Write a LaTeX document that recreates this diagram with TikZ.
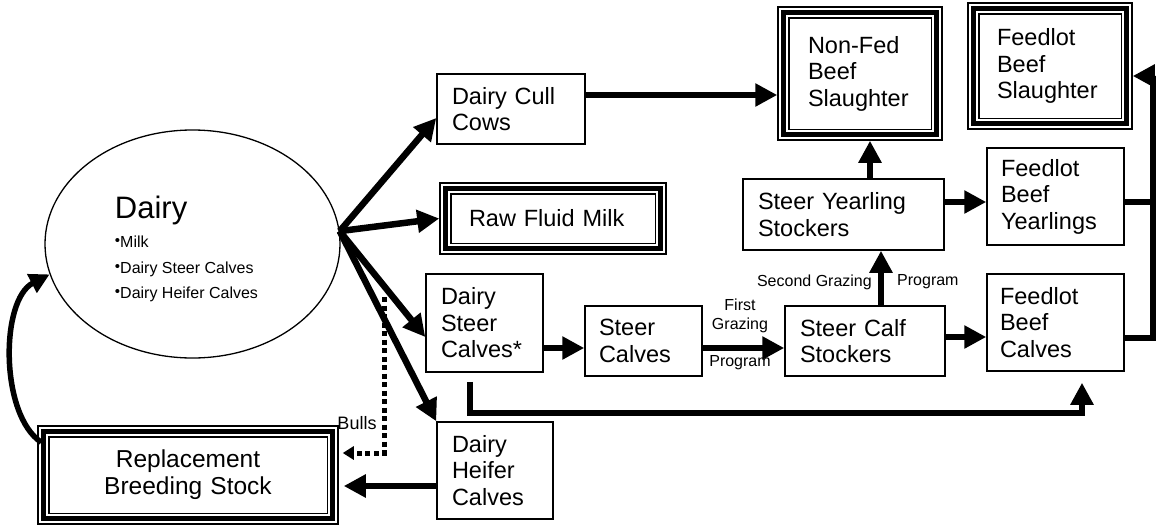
\documentclass[tikz,border=0pt]{standalone}
\usepackage{fontspec}
\setmainfont{Liberation Sans}
\usetikzlibrary{arrows.meta,shapes.geometric}

\newcommand{\boxfont}{\fontsize{23.5}{26.5}\selectfont}
\newcommand{\smallfont}{\fontsize{16}{25}\selectfont}
\newcommand{\bulletmark}{\raisebox{2.5pt}{\fontsize{15}{15}\selectfont •}}
\newcommand{\tripleframe}[1]{%
  \draw[line width=5pt] ([shift={(6,6)}]#1.north west) rectangle ([shift={(-6,-6)}]#1.south east);
  \draw[line width=1.5pt] ([shift={(11.5,11.5)}]#1.north west) rectangle ([shift={(-11.5,-11.5)}]#1.south east);}

\begin{document}
\begin{tikzpicture}[x=1pt,y=-1pt,
  box/.style={draw,line width=1.5pt,font=\boxfont,align=left,inner sep=0pt},
  flow/.style={line width=6.5pt,-{Triangle[length=22pt,width=22pt]}},
  lbl/.style={font=\fontsize{16}{19}\selectfont,inner sep=0pt}]
\useasboundingbox (0,0) rectangle (1156,525);

\node[ellipse,draw,line width=1.3pt,minimum width=295,minimum height=228,font=\smallfont,align=left] (dairy) at (192.5,244)
  {\rule{0pt}{33pt}{\fontsize{31}{31}\selectfont Dairy}\\[4pt]
   \bulletmark Milk\\[1pt]
   \bulletmark Dairy Steer Calves\\
   \bulletmark Dairy Heifer Calves\hspace*{12pt}};

\node[box,minimum width=148,minimum height=70,text width=118] (cull) at (511,109) {Dairy Cull\\Cows};
\node[box,minimum width=226,minimum height=71,text width=168] (milk) at (553,218.5) {Raw Fluid Milk};
\node[box,minimum width=164,minimum height=133,text width=104] (nonfed) at (860,73.5) {Non-Fed\\Beef\\Slaughter};
\node[box,minimum width=164,minimum height=126,text width=106] (fedslaughter) at (1050,66) {Feedlot\\Beef\\Slaughter};
\node[box,minimum width=201,minimum height=71,text width=171] (yearling) at (843.5,214.5) {Steer Yearling\\Stockers};
\node[box,minimum width=137,minimum height=97,text width=109] (fyearlings) at (1055.5,196.5) {Feedlot\\Beef\\Yearlings};
\node[box,minimum width=137,minimum height=97,text width=111] (fcalves) at (1055.5,322.5) {Feedlot\\Beef\\Calves};
\node[box,minimum width=160,minimum height=70,text width=130] (calfstock) at (865,341) {Steer Calf\\Stockers};
\node[box,minimum width=117,minimum height=70,text width=89] (steercalves) at (643.5,341) {Steer\\Calves};
\node[box,minimum width=117,minimum height=98,text width=87] (dsteer) at (484.5,323) {Dairy\\Steer\\Calves*};
\node[box,minimum width=116,minimum height=97,text width=86] (heifer) at (495,470.5) {Dairy\\Heifer\\Calves};
\node[box,minimum width=300,minimum height=98,text width=240,align=center,font=\fontsize{24.5}{27}\selectfont] (repl) at (188,475) {Replacement\\Breeding Stock};

\tripleframe{milk}
\tripleframe{nonfed}
\tripleframe{fedslaughter}
\tripleframe{repl}

\draw[flow] (dairy.5) -- ([shift={(0,9)}]cull.west);
\draw[flow] (dairy.5) -- (milk.west);
\draw[flow] (dairy.5) -- ([shift={(0,14)}]dsteer.west);
\draw[flow] (dairy.5) -- (heifer.north west);

\draw[flow] ([shift={(0,-14)}]cull.east) -- ([shift={(0,21.5)}]nonfed.west);
\draw[flow] ([shift={(26.5,0)}]yearling.north) -- ([shift={(10,0)}]nonfed.south);
\draw[flow] ([shift={(0,-12.5)}]yearling.east) -- ([shift={(0,5.5)}]fyearlings.west);
\draw[flow] ([shift={(16,0)}]calfstock.north) -- ([shift={(37.5,0)}]yearling.south);
\draw[flow] ([shift={(0,-4)}]calfstock.east) -- ([shift={(0,14.5)}]fcalves.west);
\draw[flow] ([shift={(0,25)}]dsteer.east) -- ([shift={(0,7)}]steercalves.west);
\draw[flow] ([shift={(0,7)}]steercalves.east) -- ([shift={(0,7)}]calfstock.west);
\draw[flow] ([shift={(0,15.5)}]heifer.west) -- ([shift={(5,11)}]repl.east);

\draw[flow,shorten <=9pt,shorten >=11pt] ([shift={(-14.5,0)}]dsteer.south) -- ++(0,40) -| ([shift={(26.5,0)}]fcalves.south);
\draw[flow] ([shift={(0,15.5)}]fcalves.east) -- ++(28,0) |- ([shift={(0,10)}]fedslaughter.east);
\draw[line width=6.5pt] ([shift={(0,5.5)}]fyearlings.east) -- ++(28,0);

\coordinate (bullsrc) at (384,297);
\draw[line width=5pt,dash pattern=on 5pt off 3.5pt,-{Triangle[length=11pt,width=13pt]}] (bullsrc) |- ([shift={(4,-22)}]repl.east);
\draw[line width=5.5pt,-{Triangle[length=20pt,width=20pt]}] ([shift={(4,17)}]repl.north west) .. controls (0,415) and (0,300) .. (dairy.192);

\node[lbl,align=center] (firstlbl) at (740,316) {First\\Grazing};
\node[lbl] (proglbl) at (740,363) {Program};
\node[lbl,anchor=east] (secondlbl) at (872,282) {Second Grazing};
\node[lbl,anchor=west] (prog2lbl) at (897,282) {Program};
\node[font=\fontsize{18}{18}\selectfont,inner sep=0pt] (bullslbl) at (357,423) {Bulls};

\end{tikzpicture}
\end{document}
